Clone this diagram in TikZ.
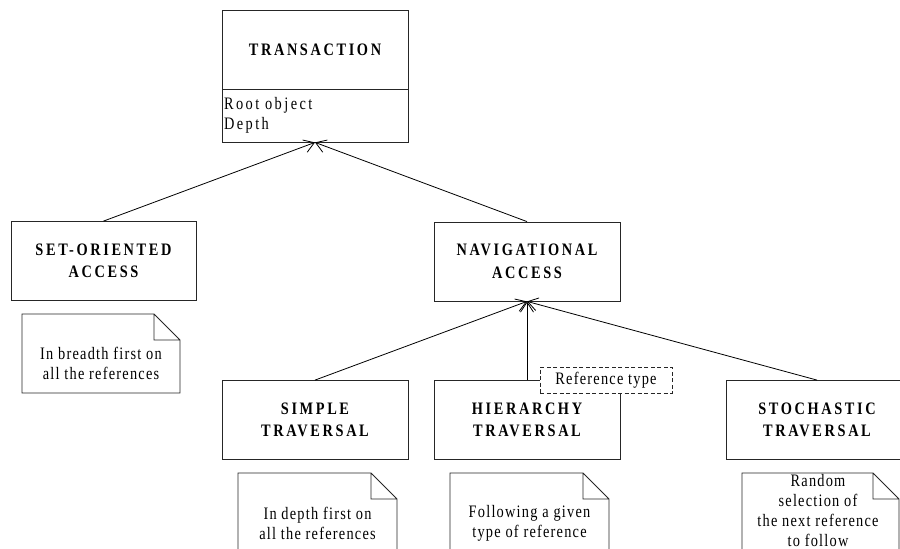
\documentclass[tikz,border=0pt]{standalone}
\usepackage{fontspec}
\usetikzlibrary{arrows.meta}
\newfontfamily\diagfont[FakeStretch=0.82,LetterSpace=7]{Liberation Serif}
\newfontfamily\attrfont[FakeStretch=0.82,LetterSpace=14]{Liberation Serif}
\newfontfamily\titlefont[FakeStretch=0.82,LetterSpace=15]{Liberation Serif}

% note outline with folded corner: left, top, right, bottom
\newcommand{\notefold}[4]{%
	\draw [noteline] (#1,#2) -- (#3-26,#2) -- (#3,#2+26) -- (#3,#4) -- (#1,#4) -- cycle
	(#3-26,#2) -- (#3-26,#2+26) -- (#3,#2+26) ;}

\begin{document}
\begin{tikzpicture}[x=1pt,y=-1pt,
	classbox/.style={draw=black!85, line width=0.8pt, minimum width=186pt, minimum height=79pt, inner sep=0pt, align=center, font=\titlefont\bfseries\fontsize{17.5}{22.5}\selectfont},
	attrbox/.style={draw=black!85, line width=0.8pt, minimum width=186pt, minimum height=53pt, text width=182pt, inner xsep=2pt, inner ysep=0pt, align=left, font=\attrfont\fontsize{17.5}{20}\selectfont},
	notetext/.style={align=center, inner sep=0pt, font=\diagfont\fontsize{17.5}{20}\selectfont},
	noteline/.style={draw=black!85, line width=0.8pt},
	reftag/.style={draw=black!85, line width=0.8pt, dash pattern=on 4pt off 2.5pt, fill=white, minimum width=132pt, minimum height=26pt, inner sep=0pt, font=\diagfont\fontsize{17.5}{20}\selectfont},
	genline/.style={line width=0.8pt, -{Straight Barb[length=10pt,width=13pt]}}]
	\useasboundingbox (0,0) rectangle (900,549);
	\clip (0,0) rectangle (900,549);
	
	%Class: Transaction
	\node [classbox] (trans) at (315,49.5) {TRANSACTION};
	\node [attrbox] (transattr) at (315,115.5) {Root object\\Depth};
	
	%Class: access kinds
	\node [classbox, minimum width=185pt] (setacc) at (103.5,261) {SET-ORIENTED\\ACCESS};
	\node [classbox] (navacc) at (527,261.5) {NAVIGATIONAL\\ACCESS};
	
	%Class: traversals
	\node [classbox] (simpletrav) at (315,420) {SIMPLE\\TRAVERSAL};
	\node [classbox] (hiertrav) at (527,420) {HIERARCHY\\TRAVERSAL};
	\node [classbox, minimum width=182pt] (stochtrav) at (817,420) {STOCHASTIC\\TRAVERSAL};
	
	%Tag on the hierarchy traversal
	\node [reftag] (reftype) at (606,380) {Reference type};
	
	%Generalisation lines
	\draw [genline] (setacc.north) -- (transattr.south) ;
	\draw [genline] (navacc.north) -- (transattr.south) ;
	\draw [genline] (simpletrav.north) -- (navacc.south) ;
	\draw [genline] (hiertrav.north) -- (navacc.south) ;
	\draw [genline] (stochtrav.north) -- (navacc.south) ;
	
	%Notes
	\notefold{22}{314}{180}{393}
	\node [notetext] (breadthnote) at (101,363) {In breadth first on\\all the references};
	\notefold{238}{473}{397}{560}
	\node [notetext] (depthnote) at (317.5,523) {In depth first on\\all the references};
	\notefold{450}{473}{609}{560}
	\node [notetext] (typenote) at (529.5,523) {Following a given\\type of reference};
	\notefold{742}{473}{899}{560}
	\node [notetext] (randomnote) at (818,510.5) {Random\\selection of\\the next reference\\to follow};
	
\end{tikzpicture}
\end{document}
